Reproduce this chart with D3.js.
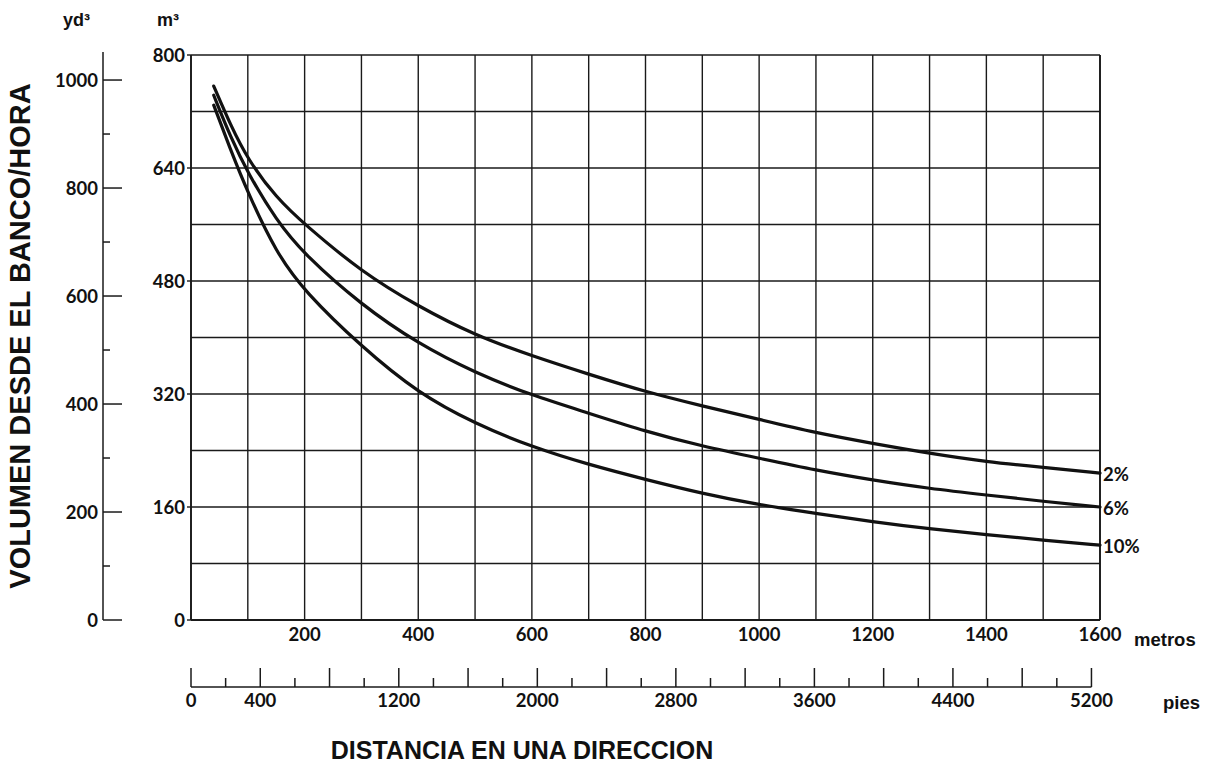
<!DOCTYPE html>
<html><head><meta charset="utf-8">
<script src="https://cdn.jsdelivr.net/npm/d3@7"></script>
<style>
body{margin:0;background:#fff;}
svg text{fill:#111;}
.num{font-family:Lato,"Liberation Sans",sans-serif;font-weight:700;font-size:18.5px;}
.ttl{font-family:"Liberation Sans",Arial,sans-serif;font-weight:700;}
</style></head>
<body>
<svg id="chart" width="1219" height="765"></svg>
<script>
// Data (distance in metres, volume in m³ per hour)
const distances = [40, 70, 100, 150, 200, 300, 400, 500, 600, 700, 800, 900, 1000, 1100, 1200, 1300, 1400, 1500, 1600];
const grade2  = [756, 700, 652, 598, 560, 493, 444, 403, 374, 348, 323, 303, 284, 265, 250, 236, 224, 216, 208];
const grade6  = [743, 683, 633, 566, 517, 446, 391, 350, 318, 293, 267, 246, 229, 212, 198, 186, 177, 168, 160];
const grade10 = [729, 665, 605, 520, 465, 387, 321, 278, 245, 220, 199, 179, 163, 151, 139, 129, 121, 113, 106];
const seriesNames = ["2%", "6%", "10%"];
const metreTicks = [200, 400, 600, 800, 1000, 1200, 1400, 1600];
const m3Ticks = [0, 160, 320, 480, 640, 800];
const yd3Ticks = [0, 200, 400, 600, 800, 1000];
const feetLabels = [0, 400, 1200, 2000, 2800, 3600, 4400, 5200];

const M3_TO_YD3 = 1.30795, M_TO_FT = 3.28084;
const svg = d3.select("#chart");
const x = d3.scaleLinear().domain([0, 1600]).range([191, 1100]);
const y = d3.scaleLinear().domain([0, 800]).range([620, 55]);
const yYd = d3.scaleLinear().domain([0, 800 * M3_TO_YD3]).range([620, 55]);
const xFt = d3.scaleLinear().domain([0, 1600 * M_TO_FT]).range([191, 1100]);

// grid
const g = svg.append("g").attr("stroke", "#1a1a1a").attr("stroke-width", 1.4);
d3.range(0, 1601, 100).forEach(v => g.append("line").attr("x1", x(v)).attr("x2", x(v)).attr("y1", y(0)).attr("y2", y(800)));
d3.range(0, 801, 80).forEach(v => g.append("line").attr("x1", x(0)).attr("x2", x(1600)).attr("y1", y(v)).attr("y2", y(v)));
g.append("line").attr("x1", x(0)).attr("x2", x(1600)).attr("y1", y(0)).attr("y2", y(0)).attr("stroke-width", 2);
g.append("line").attr("x1", x(0)).attr("x2", x(0)).attr("y1", y(0)).attr("y2", y(800)).attr("stroke-width", 1.8);
g.append("line").attr("x1", x(1600)).attr("x2", x(1600)).attr("y1", y(0)).attr("y2", y(800)).attr("stroke-width", 1.8);
m3Ticks.forEach(v => g.append("line").attr("x1", x(0) - 4).attr("x2", x(0)).attr("y1", y(v)).attr("y2", y(v)));

// m3 labels
svg.selectAll(".m3lab").data(m3Ticks).join("text").attr("class", "num")
  .attr("x", 185).attr("y", d => y(d)).attr("dy", "0.36em").attr("text-anchor", "end").text(d => d);
// metre labels
svg.selectAll(".mlab").data(metreTicks).join("text").attr("class", "num")
  .attr("x", d => x(d)).attr("y", 641).attr("text-anchor", "middle").text(d => d);

// yd3 axis
const ya = svg.append("g").attr("stroke", "#1a1a1a").attr("stroke-width", 1.5);
ya.append("line").attr("x1", 103).attr("x2", 103).attr("y1", 52).attr("y2", 620);
d3.range(0, 1001, 100).forEach(v => ya.append("line").attr("x1", 103).attr("x2", v % 200 === 0 ? 122 : 110)
  .attr("y1", yYd(v)).attr("y2", yYd(v)));
svg.selectAll(".ydlab").data(yd3Ticks).join("text").attr("class", "num")
  .attr("x", 98).attr("y", d => yYd(d)).attr("dy", "0.36em").attr("text-anchor", "end").text(d => d);

// feet axis
const fa = svg.append("g").attr("stroke", "#1a1a1a").attr("stroke-width", 1.5);
fa.append("line").attr("x1", xFt(0)).attr("x2", xFt(5200)).attr("y1", 687).attr("y2", 687);
d3.range(0, 5201, 200).forEach(v => fa.append("line").attr("x1", xFt(v)).attr("x2", xFt(v))
  .attr("y1", 687).attr("y2", v % 400 === 0 ? 668 : 678));
svg.selectAll(".ftlab").data(feetLabels).join("text").attr("class", "num")
  .attr("x", d => xFt(d)).attr("y", 707).attr("text-anchor", "middle").text(d => d);

// curves
const line = d3.line().x(d => x(d[0])).y(d => y(d[1])).curve(d3.curveBasis);
[grade2, grade6, grade10].forEach((s, i) => {
  const pts = distances.map((dd, j) => [dd, s[j]]);
  svg.append("path").datum(pts).attr("d", line).attr("fill", "none").attr("stroke", "#111")
    .attr("stroke-width", 3.2).attr("stroke-linecap", "round");
  svg.append("text").attr("class", "num").attr("x", x(1600) + 3).attr("y", y(s[s.length - 1]) + 1)
    .attr("dy", "0.36em").text(seriesNames[i]);
});

// titles
svg.append("text").attr("class", "ttl").attr("x", 63).attr("y", 26).attr("font-size", 18).text("yd³");
svg.append("text").attr("class", "ttl").attr("x", 157).attr("y", 26).attr("font-size", 18).text("m³");
svg.append("text").attr("class", "ttl").attr("x", 1134).attr("y", 646).attr("font-size", 18.5).text("metros");
svg.append("text").attr("class", "ttl").attr("x", 1163).attr("y", 709).attr("font-size", 18.5).text("pies");
svg.append("text").attr("class", "ttl").attr("x", 522).attr("y", 759).attr("font-size", 25)
  .attr("text-anchor", "middle").text("DISTANCIA EN UNA DIRECCION");
svg.append("text").attr("class", "ttl").attr("transform", "translate(30,336) rotate(-90)").attr("font-size", 29)
  .attr("text-anchor", "middle").text("VOLUMEN DESDE EL BANCO/HORA");
</script>
</body></html>
